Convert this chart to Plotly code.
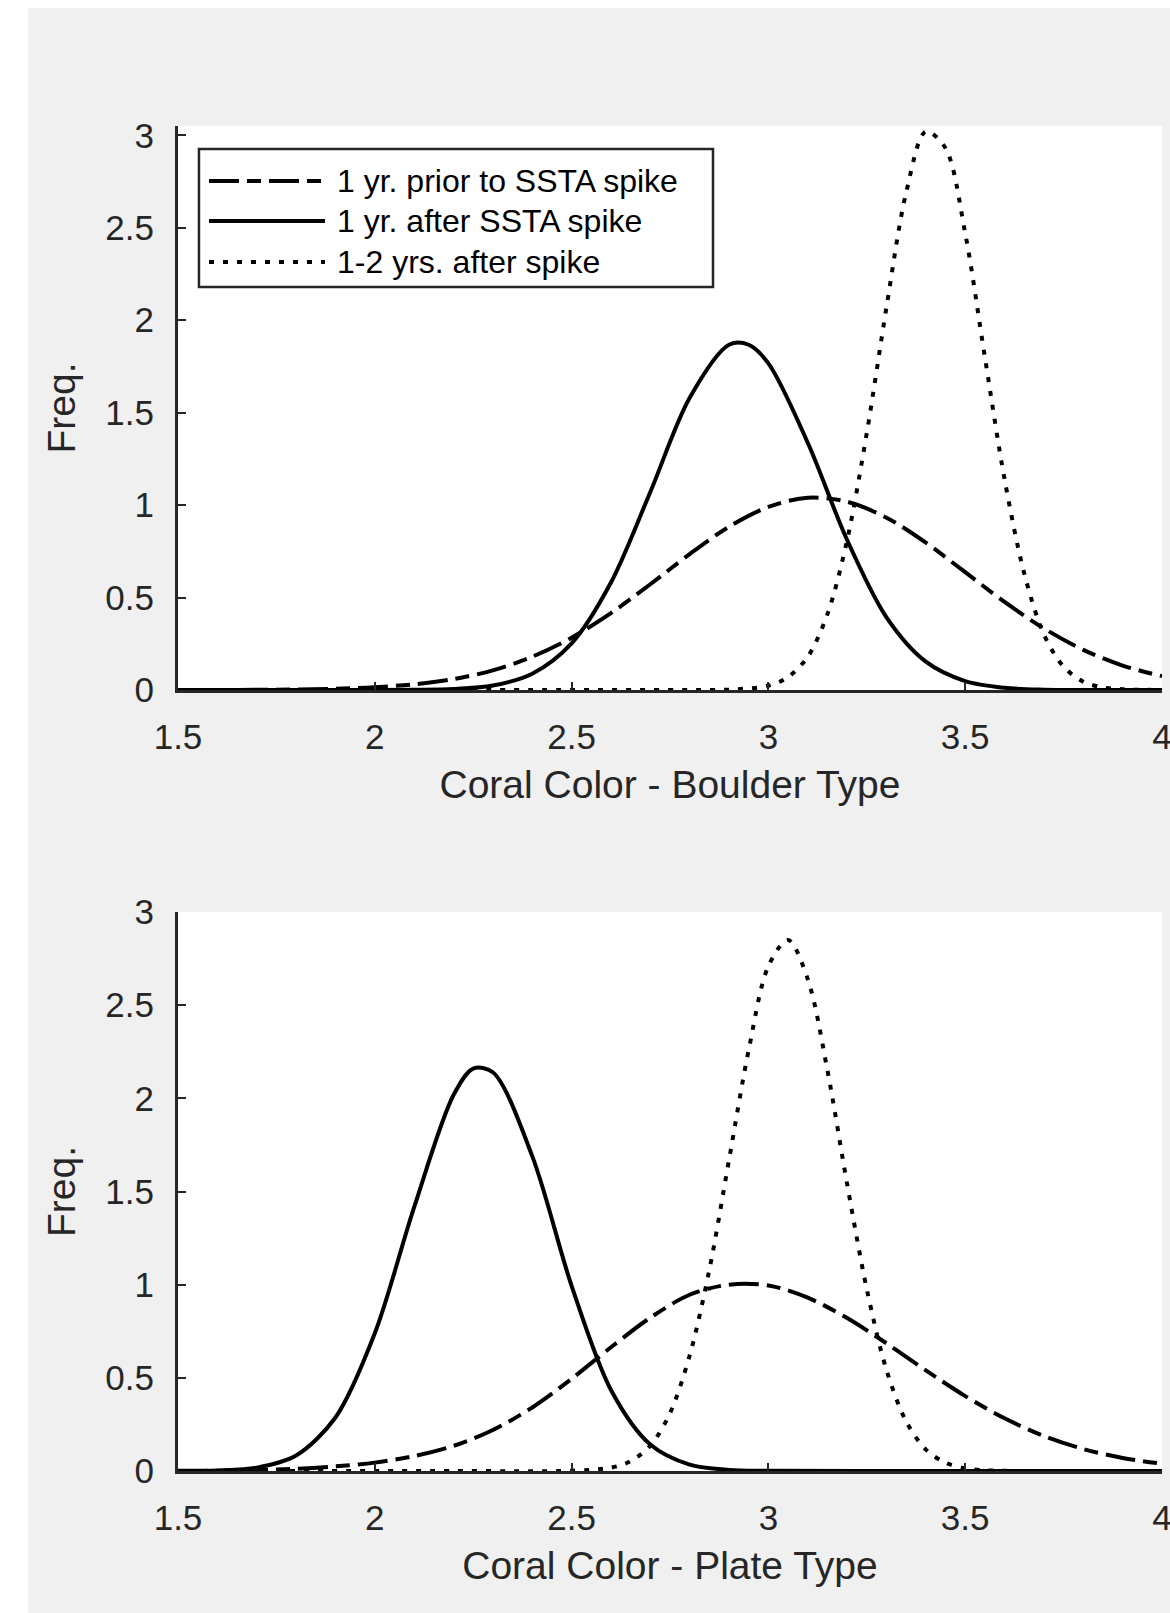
import plotly.graph_objects as go

# ---------------- data ----------------
# Top panel: Boulder type
boulder_prior_x = [1.5, 1.7, 1.9, 2.0, 2.1, 2.2, 2.3, 2.4, 2.5, 2.6, 2.7, 2.8, 2.9, 3.0, 3.1, 3.2, 3.3, 3.4, 3.5, 3.6, 3.7, 3.8, 3.9, 4.0]
boulder_prior_y = [0.0, 0.001, 0.007, 0.015, 0.031, 0.059, 0.106, 0.18, 0.283, 0.416, 0.572, 0.735, 0.883, 0.99, 1.04, 1.018, 0.932, 0.797, 0.637, 0.476, 0.333, 0.217, 0.132, 0.075]

boulder_after_x = [1.5, 1.8, 2.0, 2.1, 2.2, 2.3, 2.4, 2.5, 2.6, 2.7, 2.8, 2.9, 2.95, 3.0, 3.1, 3.2, 3.3, 3.4, 3.5, 3.6, 3.7, 3.8, 4.0]
boulder_after_y = [0.0, 0.0, 0.0, 0.001, 0.005, 0.024, 0.088, 0.252, 0.581, 1.071, 1.58, 1.867, 1.867, 1.766, 1.337, 0.811, 0.393, 0.153, 0.048, 0.012, 0.002, 0.0, 0.0]

boulder_later_x = [1.5, 2.5, 2.8, 2.9, 3.0, 3.05, 3.1, 3.15, 3.2, 3.25, 3.3, 3.35, 3.4, 3.45, 3.5, 3.55, 3.6, 3.65, 3.7, 3.75, 3.8, 3.85, 3.9, 4.0]
boulder_later_y = [0.0, 0.0, 0.0, 0.002, 0.023, 0.07, 0.18, 0.41, 0.81, 1.39, 2.07, 2.69, 3.02, 2.93, 2.47, 1.80, 1.14, 0.63, 0.30, 0.126, 0.045, 0.014, 0.004, 0.0]

# Bottom panel: Plate type
plate_prior_x = [1.5, 1.6, 1.7, 1.8, 1.9, 2.0, 2.1, 2.2, 2.3, 2.4, 2.5, 2.6, 2.7, 2.8, 2.9, 3.0, 3.1, 3.2, 3.3, 3.4, 3.5, 3.6, 3.7, 3.8, 3.9, 4.0]
plate_prior_y = [0.001, 0.002, 0.005, 0.012, 0.025, 0.045, 0.08, 0.135, 0.22, 0.341, 0.495, 0.664, 0.823, 0.946, 1.0, 0.996, 0.93, 0.821, 0.685, 0.54, 0.402, 0.283, 0.188, 0.118, 0.07, 0.039]

plate_after_x = [1.5, 1.6, 1.7, 1.8, 1.9, 2.0, 2.1, 2.2, 2.25, 2.3, 2.4, 2.5, 2.6, 2.7, 2.8, 2.9, 3.0, 3.3, 4.0]
plate_after_y = [0.0, 0.003, 0.018, 0.083, 0.287, 0.739, 1.416, 2.018, 2.16, 2.14, 1.69, 0.994, 0.435, 0.142, 0.034, 0.006, 0.001, 0.0, 0.0]

plate_later_x = [1.5, 2.2, 2.5, 2.6, 2.65, 2.7, 2.75, 2.8, 2.85, 2.9, 2.95, 3.0, 3.05, 3.1, 3.15, 3.2, 3.25, 3.3, 3.35, 3.4, 3.45, 3.5, 3.55, 3.6, 3.8, 4.0]
plate_later_y = [0.0, 0.0, 0.0015, 0.018, 0.053, 0.136, 0.31, 0.62, 1.08, 1.67, 2.26, 2.71, 2.85, 2.64, 2.15, 1.54, 0.976, 0.542, 0.266, 0.115, 0.044, 0.015, 0.004, 0.001, 0.0, 0.0]

legend_labels = ["1 yr. prior to SSTA spike", "1 yr. after SSTA spike", "1-2 yrs. after spike"]
x_tick_vals = [1.5, 2.0, 2.5, 3.0, 3.5, 4.0]
x_tick_text = ["1.5", "2", "2.5", "3", "3.5", "4"]
y_tick_vals = [0, 0.5, 1.0, 1.5, 2.0, 2.5, 3.0]
y_tick_text = ["0", "0.5", "1", "1.5", "2", "2.5", "3"]
x_titles = ["Coral Color - Boulder Type", "Coral Color - Plate Type"]
y_title = "Freq."

# ---------------- styling ----------------
FONT = "Liberation Sans, Arial, Helvetica, sans-serif"
AXC = "#262626"
LW = 4
DASH_PRIOR = "30px,8px,14px,8px"
DASH_LATER = "5px,9px"
styles = [DASH_PRIOR, "solid", DASH_LATER]

W, H = 1170, 1613
ML, MR, MT, MB = 178, 8, 126, 142
ph = H - MT - MB
top_dom = [(H - MB - 690) / ph, 1.0]
bot_dom = [0.0, (H - MB - 912) / ph]

fig = go.Figure()

panels = [
    ("x", "y", [(boulder_prior_x, boulder_prior_y), (boulder_after_x, boulder_after_y), (boulder_later_x, boulder_later_y)]),
    ("x2", "y2", [(plate_prior_x, plate_prior_y), (plate_after_x, plate_after_y), (plate_later_x, plate_later_y)]),
]
for xa, ya, series in panels:
    for (xs, ys), dash, name in zip(series, styles, legend_labels):
        fig.add_trace(go.Scatter(
            x=xs, y=ys, xaxis=xa, yaxis=ya, mode="lines", name=name,
            line=dict(color="black", width=LW, dash=dash, shape="spline", smoothing=0.9),
            showlegend=False, hoverinfo="skip",
        ))

def xaxis_cfg(title, anchor):
    return dict(
        domain=[0, 1], anchor=anchor, range=[1.5, 4.0],
        tickmode="array", tickvals=x_tick_vals, ticktext=x_tick_text,
        showline=True, linecolor=AXC, linewidth=3, mirror=False,
        ticks="inside", ticklen=8, tickwidth=2, tickcolor=AXC,
        showgrid=False, zeroline=False, ticklabelstandoff=14,
        ticklabeloverflow="allow",
        tickfont=dict(family=FONT, size=35, color=AXC),
        title=dict(text=title, font=dict(family=FONT, size=39, color=AXC), standoff=16),
        automargin=False, fixedrange=True,
    )

def yaxis_cfg(dom, rng, anchor):
    return dict(
        domain=dom, anchor=anchor, range=rng,
        tickmode="array", tickvals=y_tick_vals, ticktext=y_tick_text,
        showline=True, linecolor=AXC, linewidth=3, mirror=False,
        ticks="inside", ticklen=8, tickwidth=2, tickcolor=AXC,
        showgrid=False, zeroline=False, ticklabelstandoff=14,
        tickfont=dict(family=FONT, size=35, color=AXC),
        title=dict(text=y_title, font=dict(family=FONT, size=39, color=AXC), standoff=18),
        automargin=False, fixedrange=True,
    )

shapes = []
annotations = []

# legend box (top panel), drawn in axis-domain coordinates
shapes.append(dict(type="rect", xref="x domain", yref="y domain",
                   x0=0.0213, x1=0.5437, y0=0.7145, y1=0.9592,
                   line=dict(color=AXC, width=2.5), fillcolor="white", layer="above"))
rows = [0.9025, 0.8316, 0.7589]
for yy, dash, label in zip(rows, styles, legend_labels):
    shapes.append(dict(type="line", xref="x domain", yref="y domain",
                       x0=0.0315, x1=0.1494, y0=yy, y1=yy,
                       line=dict(color="black", width=LW, dash=dash), layer="above"))
    annotations.append(dict(xref="x domain", yref="y domain", x=0.1596, y=yy,
                            xanchor="left", yanchor="middle", showarrow=False,
                            text=label, font=dict(family=FONT, size=32, color="black")))

# white page border strips (left and top) seen in the reference
shapes.append(dict(type="rect", xref="paper", yref="paper",
                   x0=-0.3, x1=(28 - ML) / (W - ML - MR), y0=-0.3, y1=1.3,
                   line=dict(width=0), fillcolor="white", layer="above"))
shapes.append(dict(type="rect", xref="paper", yref="paper",
                   x0=-0.3, x1=1.3, y0=(H - MB - 8) / ph, y1=1.3,
                   line=dict(width=0), fillcolor="white", layer="above"))

fig.update_layout(
    width=W, height=H,
    margin=dict(l=ML, r=MR, t=MT, b=MB, pad=0),
    paper_bgcolor="#f0f0f0", plot_bgcolor="white",
    showlegend=False,
    xaxis=xaxis_cfg(x_titles[0], "y"),
    yaxis=yaxis_cfg(top_dom, [0, 3.05], "x"),
    xaxis2=xaxis_cfg(x_titles[1], "y2"),
    yaxis2=yaxis_cfg(bot_dom, [0, 3.0], "x2"),
    shapes=shapes, annotations=annotations,
    font=dict(family=FONT, color=AXC),
)

fig.write_html("out.html")
